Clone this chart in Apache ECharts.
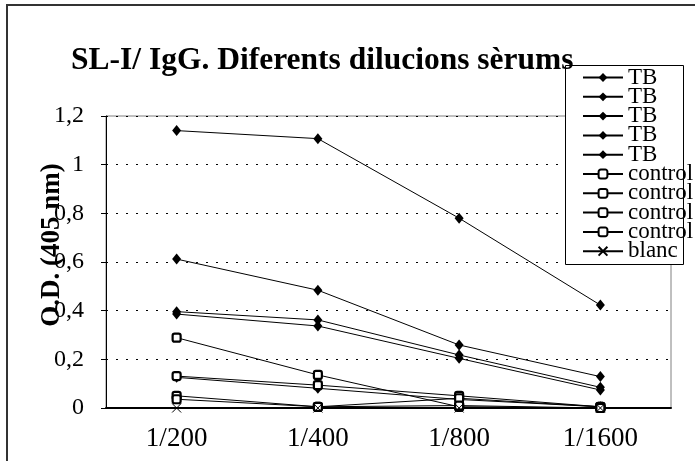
<!DOCTYPE html>
<html>
<head>
<meta charset="utf-8">
<script src="https://cdn.jsdelivr.net/npm/echarts@6/dist/echarts.min.js"></script>
<style>
  html, body { margin: 0; padding: 0; background: #fff; }
  #chart { width: 695px; height: 461px; }
</style>
</head>
<body>
<div id="chart"></div>
<script>
  // dilucions
  var categories = ['1/200', '1/400', '1/800', '1/1600'];

  // sèrums TB
  var tb1 = [1.14, 1.107, 0.78, 0.423];
  var tb2 = [0.612, 0.484, 0.259, 0.129];
  var tb3 = [0.396, 0.362, 0.218, 0.085];
  var tb4 = [0.386, 0.337, 0.204, 0.074];
  var tb5 = [0.126, 0.081, 0.035, 0.005];

  // sèrums control
  var control1 = [0.289, 0.136, 0.005, 0];
  var control2 = [0.131, 0.094, 0.05, 0.005];
  var control3 = [0.05, 0.005, 0.04, 0.005];
  var control4 = [0.036, 0.005, 0.01, 0];

  var blanc = [0, 0, 0, 0];

  var FONT = '"Liberation Serif", "Times New Roman", serif';
  var crossPath = 'path://M0,0L10,10M10,0L0,10';

  function tbSeries(name, data) {
    return {
      name: name, type: 'line', data: data,
      symbol: 'diamond', symbolSize: [9, 11],
      itemStyle: { color: '#000' },
      lineStyle: { color: '#000', width: 1 }
    };
  }
  function controlSeries(name, data) {
    return {
      name: name, type: 'line', data: data,
      symbol: 'roundRect', symbolSize: 8,
      itemStyle: { color: '#fff', borderColor: '#000', borderWidth: 2.2 },
      lineStyle: { color: '#000', width: 1 }
    };
  }

  var series = [
    tbSeries('TB1', tb1),
    tbSeries('TB2', tb2),
    tbSeries('TB3', tb3),
    tbSeries('TB4', tb4),
    tbSeries('TB5', tb5),
    controlSeries('control1', control1),
    controlSeries('control2', control2),
    controlSeries('control3', control3),
    controlSeries('control4', control4),
    {
      name: 'blanc', type: 'line', data: blanc,
      symbol: crossPath, symbolSize: 9,
      itemStyle: { color: '#fff', borderColor: '#000', borderWidth: 1 },
      lineStyle: { color: '#000', width: 1 }
    }
  ];

  var myChart = echarts.init(document.getElementById('chart'));
  var option = {
    animation: false,
    backgroundColor: '#fff',
    title: {
      text: 'SL-I/ IgG. Diferents dilucions sèrums',
      left: 66,
      top: 40,
      textStyle: { fontFamily: FONT, fontSize: 31.5, fontWeight: 'bold', color: '#000' }
    },
    graphic: [
      {
        type: 'rect', z: 0,
        shape: { x: 7, y: 5, width: 720, height: 480 },
        style: { fill: 'none', stroke: '#333', lineWidth: 2 }
      },
      {
        type: 'rect', z: 3,
        shape: { x: 565.5, y: 65.5, width: 118, height: 199 },
        style: { fill: '#fff', stroke: '#000', lineWidth: 1 }
      },
      {
        // titol de l'eix Y
        type: 'text', z: 5,
        x: 52, y: 245, rotation: Math.PI / 2,
        style: {
          text: 'O.D. (405 nm)',
          fontFamily: FONT, fontSize: 27, fontWeight: 'bold', fill: '#000',
          align: 'center', verticalAlign: 'middle'
        }
      }
    ],
    legend: {
      orient: 'vertical',
      left: 582,
      top: 66,
      padding: 0,
      itemWidth: 40,
      itemHeight: 11,
      itemGap: -3.7,
      z: 4,
      formatter: function (name) { return name.replace(/\d+$/, ''); },
      textStyle: { fontFamily: FONT, fontSize: 23, color: '#000' },
      data: series.map(function (s) { return s.name; })
    },
    grid: {
      left: 106, right: 24, top: 116, bottom: 53,
      show: true, borderColor: '#808080', borderWidth: 1, backgroundColor: 'transparent'
    },
    xAxis: {
      type: 'category',
      data: categories,
      boundaryGap: true,
      axisLine: { lineStyle: { color: '#000', width: 2 } },
      axisTick: { length: 6, lineStyle: { color: '#000', width: 1 } },
      axisLabel: { fontFamily: FONT, fontSize: 27, color: '#000', margin: 17 }
    },
    yAxis: {
      type: 'value',
      min: 0, max: 1.2, interval: 0.2,
      axisLine: { show: true, lineStyle: { color: '#000', width: 1 } },
      axisTick: { show: true, length: 5, lineStyle: { color: '#000' } },
      axisLabel: {
        fontFamily: FONT, fontSize: 24, color: '#000', margin: 22,
        formatter: function (v) { return String(+v.toFixed(1)).replace('.', ','); }
      },
      splitLine: { lineStyle: { color: '#000', type: [2, 8], width: 1 } }
    },
    series: series
  };
  myChart.setOption(option);
</script>
</body>
</html>
